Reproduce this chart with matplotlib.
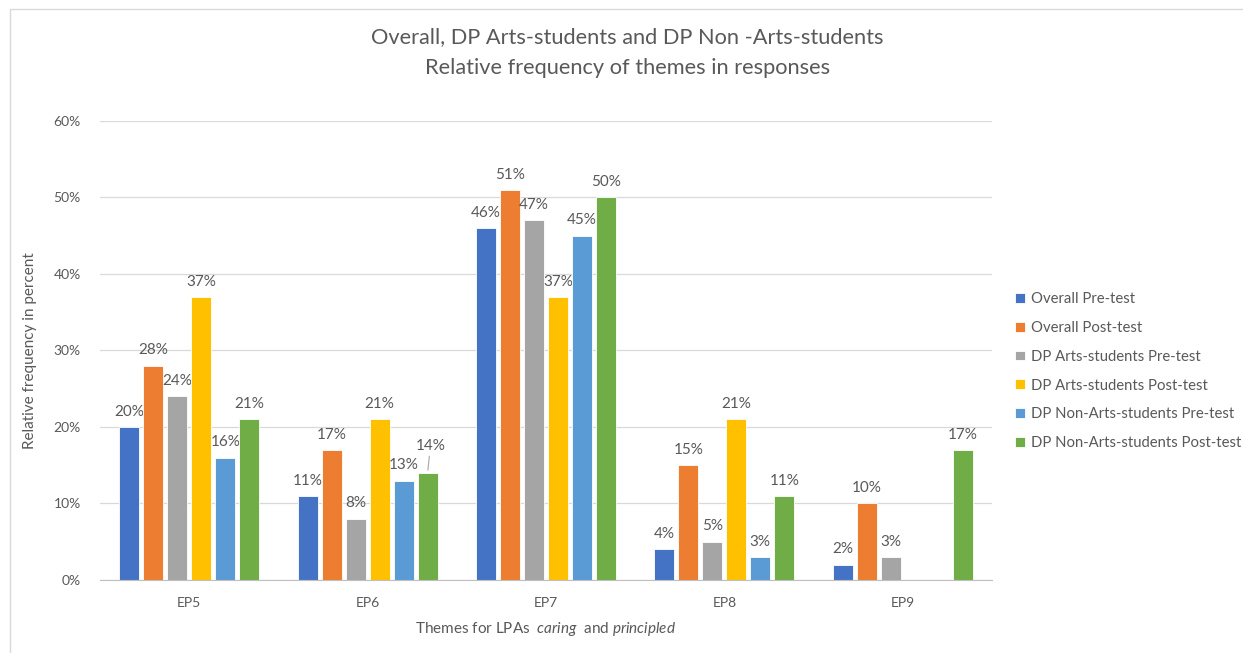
import matplotlib.pyplot as plt
from matplotlib.patches import Rectangle
import numpy as np

plt.rcParams['font.family'] = ['Lato', 'DejaVu Sans']
plt.rcParams['mathtext.fontset'] = 'custom'
plt.rcParams['mathtext.rm'] = 'Lato'
plt.rcParams['mathtext.it'] = 'Lato:italic'

# chart data
themes = ["EP5", "EP6", "EP7", "EP8", "EP9"]
series_names = ["Overall Pre-test", "Overall Post-test",
                "DP Arts-students Pre-test", "DP Arts-students Post-test",
                "DP Non-Arts-students Pre-test", "DP Non-Arts-students Post-test"]
overall_pre = [20, 11, 46, 4, 2]
overall_post = [28, 17, 51, 15, 10]
arts_pre = [24, 8, 47, 5, 3]
arts_post = [37, 21, 37, 21, np.nan]
nonarts_pre = [16, 13, 45, 3, np.nan]
nonarts_post = [21, 14, 50, 11, 17]
yticks = [0, 10, 20, 30, 40, 50, 60]

series = [overall_pre, overall_post, arts_pre, arts_post, nonarts_pre, nonarts_post]
colors = ["#4472C4", "#ED7D31", "#A5A5A5", "#FFC000", "#5B9BD5", "#70AD47"]
text_col = "#595959"

fig = plt.figure(figsize=(12.43, 6.53), dpi=100)
ax = fig.add_axes([0.0805, 0.1118, 0.7175, 0.7029])

# thin chart border
fig.patches.append(Rectangle((10 / 1243, -0.01), 1.05, 1 - 9 / 653 + 0.01,
                             transform=fig.transFigure, fill=False,
                             edgecolor="#d9d9d9", lw=1))

x = np.arange(len(themes))
pitch = 0.1345
width = 0.112
for i, (vals, name, c) in enumerate(zip(series, series_names, colors)):
    pos = x + (i - 2.5) * pitch
    bars = ax.bar(pos, vals, width, color=c, label=name,
                  edgecolor="white", linewidth=0.6, zorder=3)
    for j, (b, v) in enumerate(zip(bars, vals)):
        if np.isnan(v):
            continue
        # EP6 non-arts post-test label is pushed up with a leader line in the original
        if i == 5 and j == 1:
            ax.annotate("%d%%" % v, (b.get_x() + b.get_width() / 2, v),
                        xytext=(2, 14), textcoords="offset points",
                        ha="center", va="bottom", fontsize=11, color=text_col,
                        arrowprops=dict(arrowstyle="-", color="#a6a6a6", lw=0.8,
                                        shrinkA=0, shrinkB=2))
            continue
        ax.annotate("%d%%" % v, (b.get_x() + b.get_width() / 2, v),
                    xytext=(0, 6), textcoords="offset points",
                    ha="center", va="bottom", fontsize=11, color=text_col)

ax.set_xlim(-0.5, len(themes) - 0.5)
ax.set_ylim(0, 60)
ax.set_yticks(yticks)
ax.set_yticklabels(["%d%%" % t for t in yticks])
ax.set_xticks(x)
ax.set_xticklabels(themes)
ax.tick_params(axis="both", length=0, labelsize=10, colors=text_col)
ax.tick_params(axis="y", pad=14)
ax.tick_params(axis="x", pad=12)
ax.grid(axis="y", color="#d9d9d9", lw=0.9, zorder=0)
for s in ["top", "right", "left"]:
    ax.spines[s].set_visible(False)
ax.spines["bottom"].set_color("#bfbfbf")
ax.spines["bottom"].set_zorder(4)

ax.set_ylabel("Relative frequency in percent", fontsize=11, color=text_col, labelpad=12)
ax.set_xlabel("Themes for LPAs  $\\it{caring}$  and $\\it{principled}$",
              fontsize=11, color=text_col, labelpad=8)

fig.text(0.505, 0.943, "Overall, DP Arts-students and DP Non -Arts-students",
         ha="center", va="center", fontsize=15.7, color=text_col)
fig.text(0.505, 0.896, "Relative frequency of themes in responses",
         ha="center", va="center", fontsize=15.7, color=text_col)

leg = fig.legend(loc="upper left", bbox_to_anchor=(0.812, 0.562), frameon=False,
                 fontsize=10.7, handlelength=0.65, handleheight=0.65, handletextpad=0.4,
                 labelspacing=1.0, borderaxespad=0)
for t in leg.get_texts():
    t.set_color(text_col)

fig.savefig("out.png", dpi=100)
